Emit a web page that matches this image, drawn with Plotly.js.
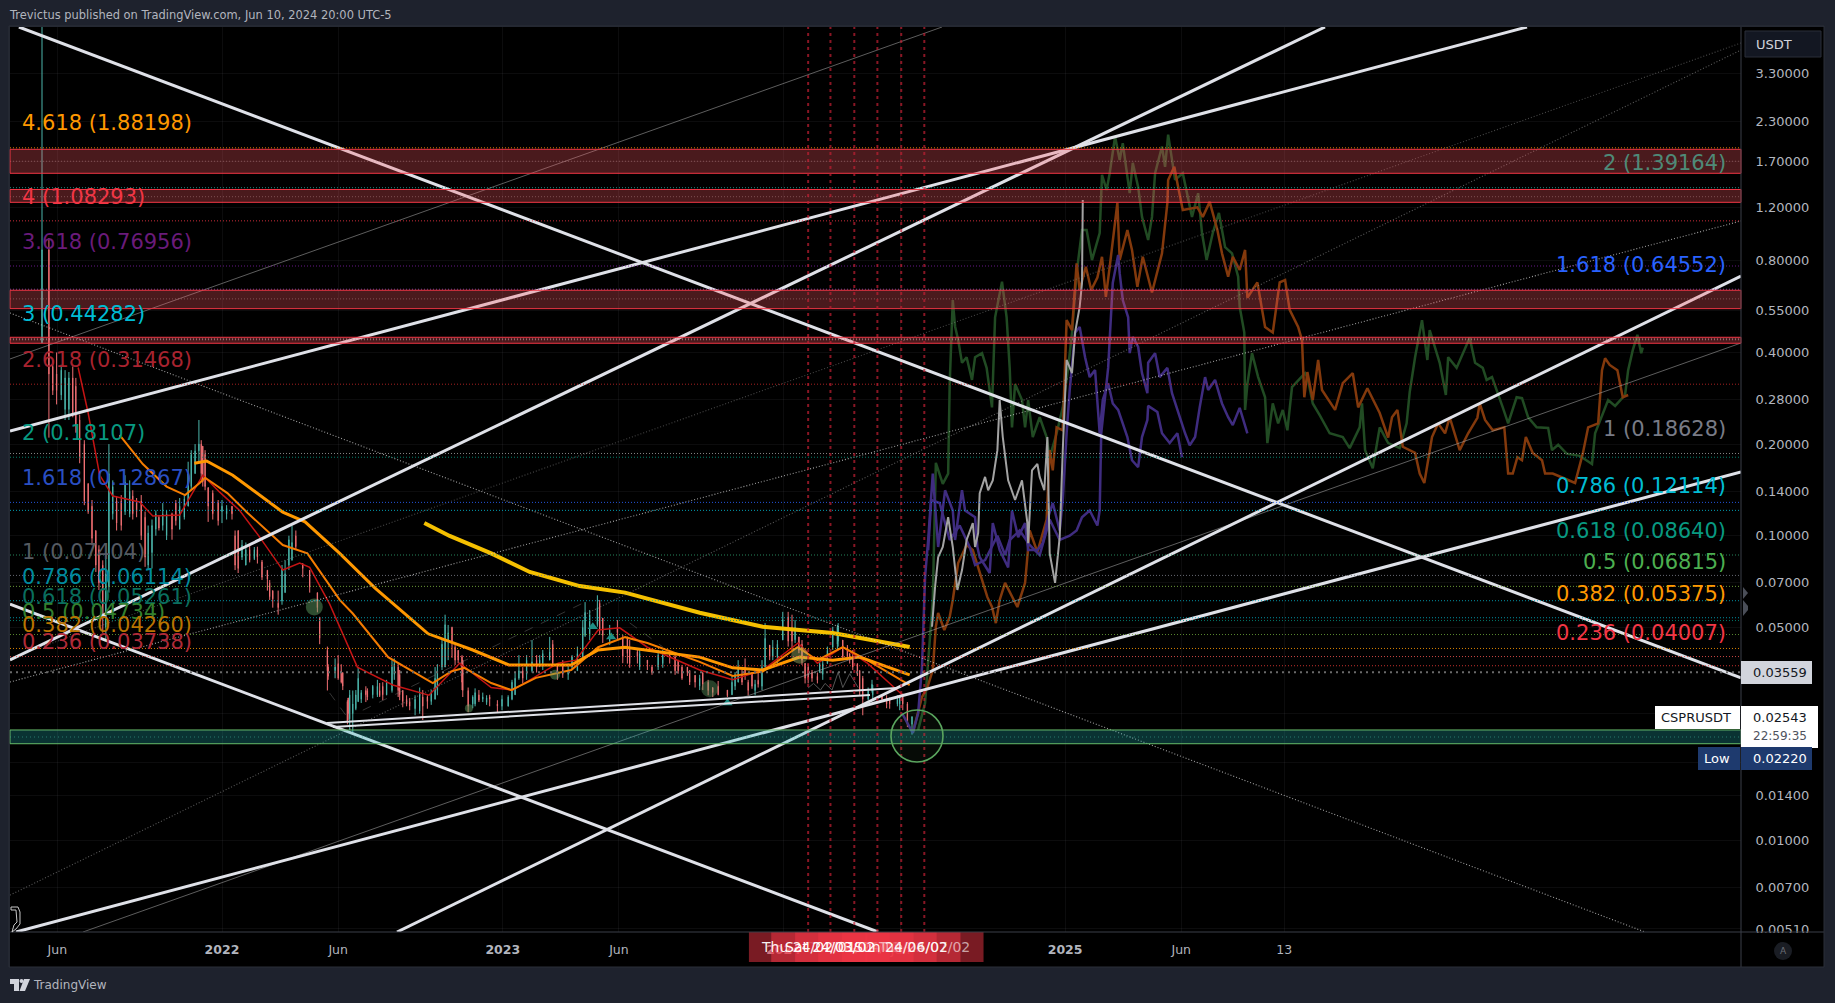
<!DOCTYPE html>
<html><head><meta charset="utf-8">
<script src="https://cdn.plot.ly/plotly-3.0.1.min.js"></script>
<style>html,body{margin:0;padding:0;background:#1e222d;overflow:hidden}#c{width:1835px;height:1003px}</style>
</head><body><div id="c"></div>
<script>
// ---- price candles: days since 2022-01-01 and OHLC in USDT ----
const candleDays=[-234,-225,-215,-204,-194,-185,-174,-164,-155,-147,-137,-120,-111,-100,-91,-77,-65,-55,-44,-35,-30,-25,-18,0,13,21,31,46,59,66,73,82,91,105,114,124,127,137,147,157,164,170,177,187,202,209,221,229,235,244,257,267,277,290,299,307,313,320,329,339,348,358,372,381,386,391,403,413,426,436,450,462,472,488,495,514,527,540,553,567,582,593,605,615,625,638,657,663,671,680,689,697,706,712,722,729,736,745,750,758,767,774,777,787,794,801,807,816,826,833,840,845,858,868,878,885,891,897];
const candleOpen=[.43,.87,.34,.26,.33,.24,.148,.104,.08,.068,.13,.118,.13,.115,.088,.108,.118,.105,.125,.16,.19,.197,.144,.12,.125,.104,.08,.09,.077,.066,.06,.065,.083,.081,.077,.065,.054,.042,.036,.0355,.0293,.026,.0285,.031,.03,.032,.031,.037,.031,.0285,.0265,.0295,.029,.037,.05,.042,.039,.031,.028,.029,.0295,.028,.0275,.03,.034,.036,.036,.038,.039,.038,.035,.036,.047,.051,.0536,.05,.0465,.0415,.039,.037,.0405,.039,.037,.0348,.0355,.0317,.0311,.03,.033,.037,.0355,.0335,.037,.0437,.04,.0454,.054,.0455,.0465,.0381,.0355,.0345,.0355,.038,.043,.045,.0454,.041,.038,.034,.029,.031,.0299,.0293,.028,.0295,.028,.024];
const candleHigh=[4.8,.95,.40,.35,.36,.25,.149,.104,.083,.20,.135,.152,.133,.12,.113,.128,.119,.133,.175,.20,.24,.197,.144,.131,.125,.104,.095,.092,.077,.066,.066,.083,.108,.081,.077,.065,.054,.0432,.0395,.0355,.0293,.031,.0368,.032,.0336,.033,.039,.038,.0311,.0293,.0317,.0299,.037,.055,.0502,.0421,.039,.0317,.0315,.0305,.03,.0288,.0299,.0355,.0405,.037,.0454,.0405,.0465,.038,.038,.0432,.0605,.0637,.0536,.0528,.0465,.0421,.039,.0421,.0415,.039,.037,.0348,.0355,.0317,.0311,.0346,.039,.0395,.0355,.0355,.0516,.0437,.0454,.0562,.0562,.0528,.0465,.0381,.0362,.0355,.039,.0432,.0502,.0516,.0454,.0411,.038,.0346,.0317,.0336,.0299,.0293,.0299,.0303,.0284,.0255];
const candleLow=[.43,.21,.27,.24,.245,.173,.118,.076,.048,.065,.104,.115,.115,.079,.078,.104,.097,.105,.125,.16,.175,.145,.111,.11,.113,.0754,.08,.081,.066,.058,.055,.065,.083,.073,.065,.056,.044,.031,.034,.0311,.0248,.0225,.0284,.0284,.0295,.0288,.0305,.0295,.0273,.0267,.026,.027,.029,.037,.0397,.0381,.0295,.0263,.0275,.0284,.0275,.0263,.0275,.03,.0336,.0327,.0355,.037,.039,.0336,.0336,.036,.0465,.0502,.0444,.0454,.038,.038,.0362,.0362,.038,.0352,.0346,.0317,.0311,.0295,.0295,.03,.033,.0336,.0314,.0317,.037,.039,.038,.0454,.0432,.0444,.0411,.0327,.0331,.0327,.0355,.038,.0421,.0432,.039,.038,.0346,.0257,.0288,.0305,.0284,.027,.0275,.0267,.0235,.0222];
const candleClose=[.87,.34,.30,.33,.25,.18,.12,.08,.055,.16,.11,.14,.12,.085,.108,.118,.105,.125,.16,.19,.20,.15,.125,.125,.118,.078,.09,.085,.072,.062,.058,.075,.095,.078,.068,.058,.046,.036,.037,.032,.026,.028,.034,.03,.032,.03,.037,.031,.0285,.0275,.03,.0285,.034,.051,.045,.039,.031,.0275,.0305,.0295,.029,.0275,.0295,.034,.036,.034,.0385,.039,.0415,.035,.036,.041,.056,.058,.047,.048,.041,.04,.038,.0405,.04,.036,.0355,.033,.0325,.0305,.0298,.033,.037,.035,.032,.0325,.046,.04,.044,.053,.045,.05,.042,.034,.034,.0335,.038,.042,.049,.05,.04,.0395,.035,.029,.031,.0325,.029,.028,.029,.028,.024,.0254];
// bars read in between the ones above
const barDays=[-220,-209,-199,-190,-179,-169,-160,-151,-142,-131,-126,-116,-105,-96,-86,-82,-72,-60,-49,-40,-27,-22,-12,-5,6,17,26,36,42,52,62,78,87,96,138,151,155,163,166,174,181,189,196,205,214,224,231,240,251,261,272,280,286,294,303,312,326,334,344,364,377,396,409,417,430,443,455,469,478,491,504,521,530,543,559,573,589,598,608,621,632,645,667,676,684,693,702,716,741,754,762,781,800,813,820,829,846,864,881];
const barOpen=[.36,.29,.26,.31,.2,.125,.09,.05,.118,.13,.12,.135,.13,.08,.105,.115,.1,.128,.115,.145,.2,.185,.138,.128,.118,.1,.085,.09,.084,.082,.07,.061,.08,.1,.037,.038,.036,.0285,.025,.027,.029,.031,.03,.031,.03,.035,.035,.029,.027,.0295,.0285,.031,.037,.045,.043,.04,.028,.03,.0283,.0275,.029,.035,.039,.038,.044,.038,.037,.04,.047,.06,.045,.046,.043,.037,.037,.038,.04,.037,.036,.032,.033,.032,.032,.035,.033,.031,.032,.04,.05,.044,.037,.035,.044,.043,.04,.036,.03,.029,.028];
const barHigh=[.378,.365,.345,.33,.206,.131,.093,.0864,.152,.136,.158,.141,.136,.108,.121,.117,.121,.131,.136,.191,.206,.191,.141,.131,.126,.104,.0968,.0932,.0918,.0832,.0715,.0801,.1,.104,.0378,.0405,.0378,.0288,.0311,.0311,.0311,.0315,.0323,.0328,.0336,.0395,.0362,.0299,.0299,.0311,.0311,.0378,.0454,.0509,.0437,.0405,.0299,.0311,.0299,.0299,.0336,.0405,.0405,.0421,.0454,.039,.0405,.0528,.057,.0615,.0509,.0472,.0454,.0421,.0376,.0421,.0405,.0376,.0362,.0349,.0336,.0333,.0356,.0362,.0336,.0336,.039,.0454,.055,.0454,.0378,.039,.0509,.0437,.0421,.0362,.0323,.0299,.0299];
const barLow=[.29,.279,.24,.218,.126,.093,.0663,.0454,.113,.104,.117,.113,.0968,.0771,.1,.104,.0968,.108,.113,.141,.152,.141,.113,.108,.113,.0771,.0832,.0817,.0832,.0715,.0615,.0593,.0771,.0897,.0336,.0336,.0327,.024,.023,.0267,.0282,.0288,.0292,.0295,.0299,.0336,.0288,.0275,.0257,.0248,.0278,.0299,.0362,.039,.0376,.0311,.0271,.0284,.0278,.0267,.0288,.0336,.0355,.0362,.0376,.0341,.0362,.039,.0454,.0472,.0437,.0381,.0368,.0362,.0349,.0368,.0349,.0336,.0323,.0311,.0299,.0299,.0311,.0323,.0299,.0299,.0311,.039,.0421,.0376,.0327,.0336,.0421,.039,.0362,.0299,.0288,.0271,.0267];
const barClose=[.30,.35,.33,.23,.13,.098,.07,.075,.145,.108,.15,.118,.10,.102,.118,.106,.118,.112,.132,.185,.16,.145,.118,.112,.123,.08,.093,.083,.09,.073,.063,.078,.097,.092,.0345,.034,.033,.0245,.03,.03,.0305,.0295,.032,.0298,.033,.038,.03,.028,.029,.0275,.0305,.036,.044,.048,.039,.033,.0295,.0288,.0293,.029,.033,.039,.037,.041,.038,.035,.04,.05,.055,.049,.049,.04,.038,.041,.0355,.041,.036,.034,.033,.034,.031,.03,.035,.033,.031,.0325,.037,.043,.045,.039,.034,.038,.05,.04,.037,.031,.0315,.028,.0295];

// ---- moving averages ----
const yellowDays=[263,296,350,400,465,524,621,703,794,894];
const yellowVals=[.110,.0998,.0875,.0760,.0683,.0650,.0558,.0502,.0479,.0431];
const maADays=[-36,-20,14,79,108,153,199,268,298,326,373,454,489,524,582,621,664,703,751,794,829,894];
const maAVals=[.173,.176,.158,.1195,.111,.0875,.0673,.0476,.0447,.0421,.0376,.0376,.0421,.043,.0411,.0399,.0368,.0362,.0399,.039,.0399,.0349];
const maBDays=[-133,-103,-72,-48,-29,-22,7,33,79,111,153,170,216,274,298,315,350,376,408,454,489,524,553,621,664,703,748,774,807,839,894];
const maBVals=[.214,.172,.145,.136,.149,.155,.138,.119,.0932,.0875,.0615,.0555,.0399,.0328,.0358,.0368,.0328,.0311,.0341,.0362,.043,.0464,.0444,.0385,.0346,.0358,.043,.039,.043,.039,.0323];
const maCDays=[-187,-174,-159,-142,-107,-90,-55,-25,-3,23,49,79,101,114,140,176,222,269,309,350,378,437,460,489,517,553,621,664,703,749,774,807,839,885];
const maCVals=[.357,.253,.158,.135,.129,.116,.117,.158,.139,.121,.0989,.0771,.0813,.0787,.0596,.037,.0323,.0299,.0381,.0317,.0311,.0381,.039,.049,.0498,.043,.0362,.0336,.0362,.0444,.0381,.043,.0381,.0299];

// ---- projected copies of the price ----
const greenDays=[905,914,924,928,937,944,946,949,950,953,957,962,968,975,979,988,994,1001,1005,1014,1020,1024,1027,1031,1040,1044,1048,1054,1063,1072,1076,1085,1093,1100,1105,1111,1118,1124,1131,1141,1144,1150,1154,1161,1167,1171,1180,1184,1191,1196,1204,1209,1213,1222,1226,1230,1235,1239,1249,1261,1269,1274,1280,1288,1296,1304,1313,1321,1323,1329,1330,1333,1339,1347,1356,1359,1366,1373,1379,1385,1391,1408,1411,1418,1427,1440,1457,1466,1479,1482,1486,1496,1505,1516,1531,1540,1544,1551,1560,1567,1570,1583,1591,1594,1605,1613,1622,1629,1639,1644,1651,1665,1672,1683,1690,1698,1709,1724,1729,1737,1748,1765,1781,1785,1802,1811,1824,1828,1834,1840,1845,1847];
const greenVals=[.023,.0282,.0615,.1735,.148,.16,.315,.465,.595,.487,.44,.37,.386,.325,.386,.398,.356,.264,.522,.683,.522,.356,.227,.315,.279,.227,.279,.211,.245,.211,.181,.217,.264,.356,.465,.729,1.011,1.011,.805,.988,1.534,1.368,1.553,2.05,1.717,1.95,1.335,1.68,1.40,1.116,.937,1.116,1.553,1.90,1.63,2.08,1.717,1.476,1.553,1.116,1.335,.988,.805,.988,1.15,.888,.847,.71,.565,.465,.259,.315,.398,.332,.285,.2015,.272,.234,.259,.222,.308,.342,.332,.272,.249,.217,.211,.194,.227,.272,.191,.1665,.227,.2015,.194,.234,.296,.386,.511,.378,.474,.37,.29,.386,.356,.398,.447,.37,.356,.325,.332,.264,.234,.285,.283,.245,.227,.226,.191,.199,.186,.183,.172,.217,.279,.267,.29,.35,.407,.457,.398,.415];
const orangeDays=[898,910,917,924,928,931,939,946,950,957,968,976,983,995,1001,1006,1011,1018,1034,1044,1050,1060,1072,1076,1080,1085,1093,1098,1105,1109,1111,1115,1123,1130,1138,1144,1149,1154,1158,1164,1167,1177,1183,1190,1197,1209,1222,1229,1230,1238,1243,1249,1268,1275,1284,1294,1300,1308,1314,1323,1330,1333,1346,1356,1366,1375,1382,1388,1399,1404,1407,1411,1418,1425,1430,1447,1457,1470,1477,1489,1505,1516,1521,1528,1535,1551,1557,1563,1573,1581,1590,1596,1609,1620,1632,1635,1642,1652,1667,1672,1678,1684,1690,1695,1704,1716,1720,1730,1743,1759,1769,1776,1789,1794,1798,1804,1814,1821,1828];
const orangeVals=[.0225,.0295,.0317,.0362,.0502,.0557,.049,.0541,.0615,.0813,.0932,.0897,.0787,.0628,.0583,.0516,.0615,.07,.0583,.07,.104,.0883,.113,.191,.164,.227,.222,.511,.474,.642,.785,.642,.765,.642,.705,.825,.609,.765,.917,1.24,.805,1.011,.869,.657,.825,.63,.847,1.24,1.476,1.63,1.40,1.176,1.20,1.116,1.25,1.011,.847,.71,.825,.747,.869,.605,.68,.485,.465,.68,.692,.552,.485,.44,.285,.345,.279,.378,.301,.259,.317,.342,.264,.305,.253,.21,.245,.259,.196,.187,.16,.149,.211,.234,.217,.245,.191,.217,.244,.272,.24,.222,.227,.16,.16,.181,.177,.211,.187,.177,.16,.16,.155,.149,.186,.227,.234,.35,.383,.364,.35,.285,.29];
const purpleADays=[884,898,905,910,914,918,924,931,940,950,953,962,966,979,982,985,998,1002,1011,1022,1027,1035,1044,1048,1060,1067,1074,1080,1089,1093,1098,1102,1109,1115,1122,1128,1135,1141,1145,1152,1158,1165,1177,1183,1191,1196,1203,1204,1216,1222,1232,1242,1248];
const purpleAVals=[.0261,.0225,.0261,.037,.0731,.0968,.16,.0918,.141,.121,.0968,.141,.121,.115,.0918,.085,.0754,.11,.0897,.0787,.121,.0989,.11,.0897,.0897,.0945,.115,.128,.104,.131,.217,.301,.465,.485,.386,.332,.35,.217,.279,.317,.272,.259,.211,.177,.168,.211,.24,.267,.255,.217,.2015,.217,.181];
const purpleBDays=[918,922,933,946,959,972,979,992,1008,1018,1024,1037,1050,1063,1076,1089,1102,1111,1118,1128,1138,1141,1143,1150,1152,1158,1165,1167,1171,1178,1180,1184,1191,1196,1203,1204,1213,1219,1229,1235,1243,1252,1258,1265,1271,1278,1282,1291,1300,1308,1314,1323,1333];
const purpleBVals=[.0897,.131,.128,.0968,.108,.0918,.0801,.0832,.1,.0864,.0968,.104,.0932,.0864,.113,.0968,.1,.104,.115,.121,.108,.121,.217,.317,.356,.677,.837,.729,.595,.522,.398,.45,.417,.342,.294,.37,.398,.332,.356,.294,.253,.217,.198,.211,.264,.332,.301,.325,.272,.245,.231,.263,.217];
const greyDays=[923,927,931,937,944,950,956,962,968,976,979,983,985,992,996,1002,1008,1011,1015,1022,1031,1040,1047,1048,1053,1060,1063,1069,1073,1075,1076,1083,1089,1093,1098,1105,1109,1115,1118,1119];
const greyVals=[.0502,.0679,.085,.0918,.115,.0918,.0663,.0771,.0968,.11,.0918,.102,.138,.156,.141,.152,.191,.279,.211,.152,.131,.152,.11,.0945,.164,.172,.156,.141,.211,.115,.0875,.07,.0989,.191,.378,.342,.465,.565,.677,1.268];
const zigzagDays=[762,769,778,784,793,801,807,816,827];
const zigzagVals=[.0316,.0327,.0311,.0327,.0311,.0356,.0317,.0352,.0317];

// ---- drawn lines: [day0,day1] and [price0,price1] ----
const heavyDays=[[-264,1974.7],[-275.6,852.8],[-275.6,1696.5],[-267.8,1974.7],[227.5,1974.7],[-275.6,1433.9]];
const heavyPrices=[[4.695,.0341],[.0596,.004985],[.2208,4.695],[.004985,.1619],[.004985,.7135],[.03905,4.695]];
const supportDays=[[136.5,877.5],[144.3,842.4]];
const supportPrices=[[.02424,.03158],[.0235,.02996]];
const thinDays=[[-275.6,936],[-180.7,1974.7]];
const thinPrices=[[.3808,4.695],[.004985,.4297]];
const dottedDays=[[-275.6,1849.9],[-275.6,1974.7],[-275.6,1974.7],[-275.6,1974.7]];
const dottedPrices=[[.5393,.004985],[.03306,1.082],[.00659,3.945],[.03963,4.16]];
const dashDays=[[140,162.5],[183,469],[530,573]];
const dashPrices=[[.0304,.0254],[.0267,.06],[.0517,.0431]];

// ---- zones and fib levels ----
const redZoneLow=[1.552,1.246,.5572,.4289];
const redZoneHigh=[1.861,1.373,.6405,.4488];
const redZoneMid=[1.7,1.3,.6,.44];
const greenZone=[.02072,.02299,.0218];
const fibLeftRatio=['4.618','4','3.618','3','2.618','2','1.618','1','0.786','0.618','0.5','0.382','0.236'];
const fibLeftVals=[1.88198,1.08293,.76956,.44282,.31468,.18107,.12867,.07404,.06114,.05261,.04734,.0426,.03738];
const fibRightRatio=['2','1.618','1','0.786','0.618','0.5','0.382','0.236'];
const fibRightVals=[1.39164,.64552,.18628,.12114,.0864,.06815,.05375,.04007];
const priceTicks=[3.3,2.3,1.7,1.2,.8,.55,.4,.28,.2,.14,.1,.07,.05,.014,.01,.007,.0051];
const gridOnlyTicks=[.026,.018];
const timeTickDates=['2021-06-01','2022-01-01','2022-06-01','2023-01-01','2023-06-01','2024-01-01','2024-06-01','2025-01-01','2025-06-01','2025-10-13'];
const timeTickText=['Jun','<b>2022</b>','Jun','<b>2023</b>','Jun','<b>2024</b>','Jun','<b>2025</b>','Jun','13'];
const markerDates=['2024-02-02','2024-03-02','2024-04-02','2024-05-02','2024-06-02','2024-07-02'];
const markerText=['Thu 24/02/01','Sat 24/03/02','Tue 24/04/02','Thu 24/05/02','Sun 24/06/02','Tue 24/07/02'];
const dotDays=[120,321,433,634,751];
const dotVals=[.0583,.0271,.0349,.0314,.0405];
const triDays=[482,506,657];
const triVals=[.0502,.0465,.0282];

// ---- styles and layout helpers ----
const FONT='"DejaVu Sans",sans-serif';
const toDate=n=>new Date(Date.UTC(2022,0,1)+n*86400000).toISOString().slice(0,19).replace('T',' ');
const L=10,R=1741,T=27,B=932;
const X=p=>(p-L)/(R-L), Y=p=>1-(p-T)/(B-T);
const fibLeftColor=['#ff9800','#f23645','#6a1b7a','#00bcd4','#a8232f','#089981','#2a4fc2','#555a62','#008a9e','#0a6e5e','#33802f','#b87400','#b02a38'];
const fibLeftLine=['#ff9800','#f23645','#7b1fa2','#b0bec5','#c62828','#089981','#2962ff','#787b86','#00acc1','#00897b','#689f38','#ff9800','#e53935'];
const fibRightColor=['#4f8a78','#2962ff','#787b86','#00bcd4','#089981','#4caf50','#ff9800','#f23645'];
const fibRightLine=['#26a69a','#7e57c2','#9e9e9e','#00bcd4','#2e9e6e','#7cb342','#00acc1','#ef5350'];
const fibLeftY=[123,197,242,314,360,433,478,552,577,597,612,625,642];
const fibRightY=[163,265,429,486,531,562,594,633];

const line=(xs,ys,color,width,dash)=>({type:'scatter',mode:'lines',x:xs.map(toDate),y:ys,hoverinfo:'skip',line:{color,width,dash:dash||'solid',shape:'linear'}});
const candleStyle={whiskerwidth:0,increasing:{line:{color:'#4db6ac',width:1},fillcolor:'#26a69a'},decreasing:{line:{color:'#ef6f73',width:1},fillcolor:'#ef5350'},hoverinfo:'skip'};
const traces=[];
traces.push(Object.assign({type:'candlestick',x:candleDays.map(toDate),open:candleOpen,high:candleHigh,low:candleLow,close:candleClose},candleStyle));
traces.push(Object.assign({type:'candlestick',x:barDays.map(toDate),open:barOpen,high:barHigh,low:barLow,close:barClose},candleStyle));
dashDays.forEach((d,i)=>traces.push(line(d,dashPrices[i],'rgba(130,130,130,.4)',1,'dash')));
traces.push(line(zigzagDays,zigzagVals,'#555',1));
traces.push(line(maCDays,maCVals,'#c41414',1.5));
traces.push(line(maBDays,maBVals,'#f57c00',2));
traces.push(line(maADays,maAVals,'#ff9800',3));
traces.push(line(yellowDays,yellowVals,'#f5c000',4));
traces.push({type:'scatter',mode:'markers',x:dotDays.map(toDate),y:dotVals,hoverinfo:'skip',marker:{size:[17,8,10,17,17],color:['rgba(102,170,106,.65)','rgba(102,170,106,.65)','rgba(102,170,106,.65)','rgba(102,170,106,.55)','rgba(170,190,110,.6)'],line:{width:0}}});
traces.push({type:'scatter',mode:'markers',x:triDays.map(toDate),y:triVals,hoverinfo:'skip',marker:{symbol:'triangle-up',size:9,color:'#1f8f85'}});
traces.push(line(greenDays,greenVals,'#214b23',2.5));
traces.push(line(orangeDays,orangeVals,'#83390c',2.5));
traces.push(line(purpleADays,purpleAVals,'#3f2c80',2.5));
traces.push(line(purpleBDays,purpleBVals,'#3f2c80',2.5));
traces.push(line(greyDays,greyVals,'#a3a3a3',2));
thinDays.forEach((d,i)=>traces.push(line(d,thinPrices[i],'rgba(170,170,170,.55)',1)));
const dotCols=['rgba(215,215,215,.75)','rgba(215,215,215,.75)','rgba(150,150,150,.6)','rgba(130,130,130,.55)'];
dottedDays.forEach((d,i)=>traces.push(line(d,dottedPrices[i],dotCols[i],1.1,'1px,2px')));
supportDays.forEach((d,i)=>traces.push(line(d,supportPrices[i],'#dfe1e8',2)));
heavyDays.forEach((d,i)=>traces.push(line(d,heavyPrices[i],'#dfe1e8',3)));

const shapes=[];
const paperRect=(x0,y0,x1,y1,fill,layer,lineColor)=>({type:'rect',xref:'paper',yref:'paper',x0:X(x0),x1:X(x1),y0:Y(y1),y1:Y(y0),fillcolor:fill,layer:layer||'above',line:{width:lineColor?1:0,color:lineColor||'rgba(0,0,0,0)'}});
const paperLine=(x0,y0,x1,y1,color,layer)=>({type:'line',xref:'paper',yref:'paper',x0:X(x0),x1:X(x1),y0:Y(y0),y1:Y(y1),layer:layer||'above',line:{color,width:1}});
const pathOf=pts=>'M'+pts.map(p=>X(p[0]).toFixed(6)+','+Y(p[1]).toFixed(6)).join('L')+'Z';
// panel behind the axes
shapes.push(paperRect(R,T,1824,967,'#000','below'));
shapes.push(paperRect(L,B,R,967,'#000','below'));
// fib levels
const hLevel=(v,color,width,dash,op)=>({type:'line',xref:'paper',yref:'y',x0:0,x1:1,y0:v,y1:v,layer:'above',opacity:op||1,line:{color,width,dash}});
fibLeftVals.forEach((v,i)=>shapes.push(hLevel(v,fibLeftLine[i],1,'1px,2px',.85)));
fibRightVals.forEach((v,i)=>shapes.push(hLevel(v,fibRightLine[i],1,'1px,2px',.85)));
shapes.push(hLevel(.03559,'#6a6a6a',2,'2px,4px'));
redZoneMid.forEach(v=>shapes.push(hLevel(v,'rgba(170,170,170,.45)',1,'1px,2px')));
// zones
redZoneLow.forEach((lo,i)=>shapes.push({type:'rect',xref:'paper',yref:'y',x0:0,x1:1,y0:lo,y1:redZoneHigh[i],layer:'above',fillcolor:'rgba(255,90,100,.29)',line:{color:'#f23645',width:1}}));
shapes.push({type:'rect',xref:'paper',yref:'y',x0:0,x1:1,y0:greenZone[0],y1:greenZone[1],layer:'above',fillcolor:'rgba(38,190,190,.27)',line:{color:'#66bb6a',width:1}});
shapes.push(hLevel(greenZone[2],'rgba(60,170,150,.6)',1,'1px,3px'));
// monthly time markers
markerDates.forEach(d=>shapes.push({type:'line',xref:'x',yref:'paper',x0:d,x1:d,y0:0,y1:1,layer:'above',line:{color:'rgba(190,30,50,.72)',width:2,dash:'3px,4px'}}));
markerDates.forEach(d=>{const t=Date.parse(d)/86400000-Date.UTC(2022,0,1)/86400000;
  shapes.push({type:'rect',xref:'x',yref:'paper',x0:toDate(t-77),x1:toDate(t+77),y0:Y(962),y1:0,layer:'above',fillcolor:'rgba(242,54,69,.5)',line:{width:0}});});
// circle around the low
shapes.push({type:'circle',xref:'paper',yref:'paper',x0:X(891),x1:X(943),y0:Y(762),y1:Y(710),layer:'above',fillcolor:'rgba(102,187,106,.06)',line:{color:'#5aa55e',width:1.6}});
// frame and separators
shapes.push(paperRect(R+1,B+1,1823,966,'#000'));
shapes.push(paperLine(L,B,1824,B,'#3a3e48'));
shapes.push(paperLine(R,T,R,967,'#3a3e48'));
shapes.push(paperRect(L-1,T-1,1824,967,'rgba(0,0,0,0)','above','#2a2e39'));
// price boxes
shapes.push(paperRect(1745,31,1821,57,'#131722','above','#2a2e39'));
shapes.push(paperRect(1741,661,1812,684,'#d1d4dc'));
shapes.push(paperRect(1655,706,1740,729,'#fff'));
shapes.push(paperRect(1741,706,1818,748,'#fff'));
shapes.push(paperRect(1698,747,1740,770,'#1e3a6e'));
shapes.push(paperRect(1741,747,1812,770,'#1e3a6e'));
shapes.push({type:'circle',xref:'paper',yref:'paper',x0:X(1774),x1:X(1792),y0:Y(960),y1:Y(942),fillcolor:'#1a1d24',layer:'above',line:{width:0}});
// chevrons on the axis, small anchor icon and logo
shapes.push({type:'path',xref:'paper',yref:'paper',path:pathOf([[1743,587],[1748,593],[1743,599]]),fillcolor:'#4a4e58',layer:'above',line:{width:0}});
shapes.push({type:'path',xref:'paper',yref:'paper',path:pathOf([[1743,600],[1748,606],[1748,610],[1743,616]]),fillcolor:'#4a4e58',layer:'above',line:{width:0}});
shapes.push({type:'path',xref:'paper',yref:'paper',path:pathOf([[11,907],[18,907],[20,912],[20,924],[16,929],[12,932],[14,925],[17,922],[16,910],[11,910]]),fillcolor:'rgba(0,0,0,0)',layer:'above',line:{color:'#c8c8c8',width:1}});
shapes.push({type:'path',xref:'paper',yref:'paper',path:pathOf([[10,979],[19,979],[19,991],[14,991],[14,984],[10,984]]),fillcolor:'#d1d4dc',layer:'above',line:{width:0}});
shapes.push({type:'path',xref:'paper',yref:'paper',path:pathOf([[24,979],[30,979],[25,991],[19.5,991]]),fillcolor:'#d1d4dc',layer:'above',line:{width:0}});
shapes.push({type:'circle',xref:'paper',yref:'paper',x0:X(19.5),x1:X(23.5),y0:Y(983),y1:Y(979),fillcolor:'#d1d4dc',layer:'above',line:{width:0}});

const ann=[];
const txt=(s,px,py,size,color,anchor,extra)=>ann.push(Object.assign({xref:'paper',yref:'paper',x:X(px),y:Y(py),text:s,showarrow:false,xanchor:anchor||'left',yanchor:'middle',font:{family:FONT,size,color},borderpad:0},extra||{}));
fibLeftRatio.forEach((r,i)=>txt(r+' ('+fibLeftVals[i].toFixed(5)+')',21,fibLeftY[i],21,fibLeftColor[i]));
fibRightRatio.forEach((r,i)=>txt(r+' ('+fibRightVals[i].toFixed(5)+')',1727,fibRightY[i],21,fibRightColor[i],'right'));
txt('Trevictus published on TradingView.com, Jun 10, 2024 20:00 UTC-5',8,15,11.45,'#b2b5be');
txt('TradingView',32,985,12,'#b2b5be');
txt('USDT',1755,44,13,'#d1d4dc');
txt('0.03559',1752,672,13,'#131722');
txt('CSPRUSDT',1660,717,13,'#131722');
txt('0.02543',1752,717,13,'#131722');
txt('22:59:35',1752,736,12,'#50535e');
txt('Low',1703,758,13,'#fff');
txt('0.02220',1752,758,13,'#fff');
txt('A',1783,951,9,'#6a6d78','center');
const markerAlpha=[.95,1,.18,.18,.95,.6];
markerDates.forEach((d,i)=>ann.push({xref:'x',yref:'paper',x:d,y:Y(947),text:markerText[i],showarrow:false,xanchor:'center',yanchor:'middle',font:{family:FONT,size:14,color:'rgba(255,255,255,'+markerAlpha[i]+')'}}));

const layout={width:1835,height:1003,margin:{l:L,r:1835-R,t:T,b:1003-B,pad:0},paper_bgcolor:'#1e222d',plot_bgcolor:'#000',showlegend:false,hovermode:false,dragmode:false,
 font:{family:FONT,color:'#b2b5be'},
 xaxis:{type:'date',range:[toDate(-275.6),toDate(1974.7)],rangeslider:{visible:false},tickmode:'array',tickvals:timeTickDates,ticktext:timeTickText,ticks:'outside',ticklen:6,tickcolor:'rgba(0,0,0,0)',
   tickfont:{family:FONT,size:12.5,color:'#b2b5be'},showgrid:true,gridcolor:'rgba(240,243,250,.05)',gridwidth:1,zeroline:false,showline:false},
 yaxis:{type:'log',side:'right',range:[Math.log10(.004985),Math.log10(4.695)],tickmode:'array',tickvals:priceTicks.concat(gridOnlyTicks),ticktext:priceTicks.map(v=>v.toFixed(5)).concat(gridOnlyTicks.map(()=>'')),
   ticks:'outside',ticklen:11,tickcolor:'rgba(0,0,0,0)',tickfont:{family:FONT,size:13,color:'#b2b5be'},showgrid:true,gridcolor:'rgba(240,243,250,.05)',gridwidth:1,zeroline:false,showline:false},
 shapes,annotations:ann};
Plotly.newPlot('c',traces,layout,{staticPlot:true,displayModeBar:false,responsive:false});
</script></body></html>
